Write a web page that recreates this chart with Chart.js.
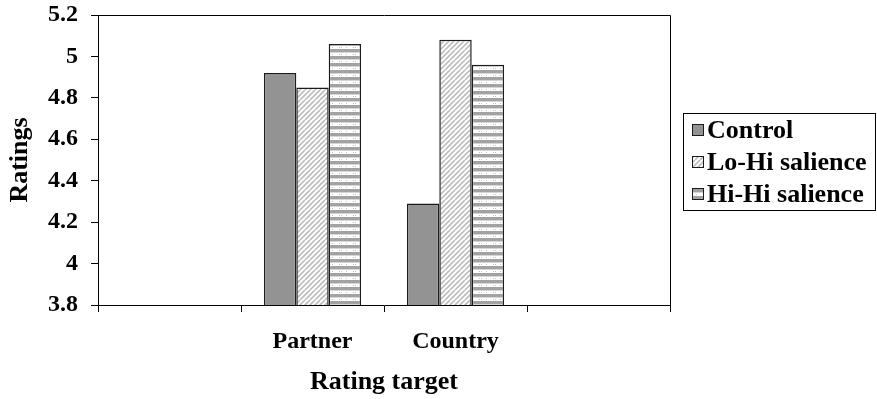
<!DOCTYPE html>
<html>
<head>
<meta charset="utf-8">
<script src="https://cdn.jsdelivr.net/npm/chart.js@4.4.0/dist/chart.umd.min.js"></script>
<style>
  html, body { margin: 0; padding: 0; background: #ffffff; }
  #wrap { width: 877px; height: 399px; }
</style>
</head>
<body>
<div id="wrap"><canvas id="chart" width="877" height="399"></canvas></div>
<script>
// Rating target categories (outer slots are empty, as in the original layout)
const categories = ['', 'Partner', 'Country', ''];
const seriesNames = ['Control', 'Lo-Hi salience', 'Hi-Hi salience'];
const controlValues = [null, 4.92, 4.29, null];
const loHiValues = [null, 4.85, 5.08, null];
const hiHiValues = [null, 5.06, 4.96, null];
const yTickValues = [3.8, 4, 4.2, 4.4, 4.6, 4.8, 5, 5.2];

const FONT = '"Liberation Serif", "Times New Roman", serif';

// Fill patterns for the three series
function makeTile(w, h, draw) {
  const c = document.createElement('canvas');
  c.width = w; c.height = h;
  const g = c.getContext('2d');
  g.fillStyle = '#ffffff';
  g.fillRect(0, 0, w, h);
  draw(g);
  return c;
}
const ctxMain = document.getElementById('chart').getContext('2d');

const solidGray = '#939393';

const diagTile = makeTile(10, 10, g => {
  g.strokeStyle = '#bdbdbd';
  g.lineWidth = 1.6;
  for (let k = -10; k <= 20; k += 5) {
    g.beginPath();
    g.moveTo(k, 10);
    g.lineTo(k + 10, 0);
    g.stroke();
  }
});
const diagPattern = ctxMain.createPattern(diagTile, 'repeat');

const stripeTile = makeTile(14, 7, g => {
  g.fillStyle = '#a2a2a2';
  g.fillRect(0, 0, 14, 3);
  g.fillStyle = '#d6d6d6';
  g.fillRect(0, 3, 14, 1);
  g.fillStyle = '#c4c4c4';
  g.fillRect(3, 5, 1, 1);
  g.fillRect(5, 5, 1, 1);
  g.fillRect(10, 5, 1, 1);
});
const stripePattern = ctxMain.createPattern(stripeTile, 'repeat');

const BORDER = '#1c1c1c';

// Frame around the plot area
const framePlugin = {
  id: 'frame',
  afterDatasetsDraw(chart) {
    const { ctx, chartArea: a } = chart;
    ctx.save();
    ctx.strokeStyle = '#000000';
    ctx.lineWidth = 1;
    ctx.beginPath();
    ctx.moveTo(Math.round(a.left) + 0.5, Math.round(a.top) + 0.5);
    ctx.lineTo(Math.round(a.right) + 0.5, Math.round(a.top) + 0.5);
    ctx.lineTo(Math.round(a.right) + 0.5, Math.round(a.bottom) + 0.5);
    ctx.stroke();
    ctx.restore();
  }
};

// Boxed legend to the right of the plot
const boxLegendPlugin = {
  id: 'boxLegend',
  afterDraw(chart) {
    const { ctx } = chart;
    const box = { x: 683, y: 113, w: 192, h: 97 };
    const rowGap = 32;
    const firstRow = 130;
    ctx.save();
    ctx.strokeStyle = '#000000';
    ctx.lineWidth = 1;
    ctx.strokeRect(box.x + 0.5, box.y + 0.5, box.w, box.h);
    ctx.font = 'bold 26px ' + FONT;
    ctx.textBaseline = 'middle';
    ctx.textAlign = 'left';
    chart.data.datasets.forEach((ds, i) => {
      const cy = firstRow + i * rowGap;
      ctx.fillStyle = ds.backgroundColor;
      ctx.fillRect(692, cy - 6, 12, 12);
      ctx.strokeStyle = BORDER;
      ctx.lineWidth = 1;
      ctx.strokeRect(692.5, cy - 5.5, 11, 11);
      ctx.fillStyle = '#000000';
      ctx.fillText(ds.label, 707, cy + 1);
    });
    ctx.restore();
  }
};

new Chart(ctxMain, {
  type: 'bar',
  data: {
    labels: categories,
    datasets: [
      { label: seriesNames[0], data: controlValues, backgroundColor: solidGray },
      { label: seriesNames[1], data: loHiValues, backgroundColor: diagPattern },
      { label: seriesNames[2], data: hiHiValues, backgroundColor: stripePattern }
    ]
  },
  options: {
    responsive: false,
    animation: false,
    devicePixelRatio: 1,
    layout: { padding: { top: 15, right: 207, bottom: 0, left: 0 } },
    datasets: {
      bar: {
        categoryPercentage: 0.68,
        barPercentage: 1.0,
        borderColor: BORDER,
        borderWidth: 1.5,
        borderSkipped: false
      }
    },
    plugins: {
      legend: { display: false },
      tooltip: { enabled: false }
    },
    scales: {
      x: {
        type: 'category',
        offset: true,
        afterFit(scale) {
          scale.height = 94;
          scale.paddingLeft = 0;
          scale.paddingRight = 0;
        },
        grid: {
          offset: true,
          drawOnChartArea: false,
          drawTicks: true,
          tickLength: 7,
          color: '#000000',
          lineWidth: 1
        },
        border: { display: true, color: '#000000', width: 1 },
        ticks: {
          color: '#000000',
          padding: 15,
          maxRotation: 0,
          autoSkip: false,
          font: { family: FONT, size: 24, weight: 'bold' }
        },
        title: {
          display: true,
          text: 'Rating target',
          color: '#000000',
          padding: { top: 0, bottom: 1 },
          font: { family: FONT, size: 26, weight: 'bold' }
        }
      },
      y: {
        min: 3.8,
        max: 5.2,
        afterFit(scale) {
          scale.width = 98;
          scale.paddingTop = 0;
          scale.paddingBottom = 0;
        },
        afterBuildTicks(scale) {
          scale.ticks = yTickValues.map(v => ({ value: v }));
        },
        grid: {
          drawOnChartArea: false,
          drawTicks: true,
          tickLength: 7,
          color: '#000000',
          lineWidth: 1
        },
        border: { display: true, color: '#000000', width: 1 },
        ticks: {
          color: '#000000',
          padding: 13,
          font: { family: FONT, size: 24, weight: 'bold' },
          callback: v => String(Math.round(v * 10) / 10)
        },
        title: {
          display: true,
          text: 'Ratings',
          color: '#000000',
          padding: { top: 5, bottom: 0 },
          font: { family: FONT, size: 26, weight: 'bold' }
        }
      }
    }
  },
  plugins: [framePlugin, boxLegendPlugin]
});
</script>
</body>
</html>
